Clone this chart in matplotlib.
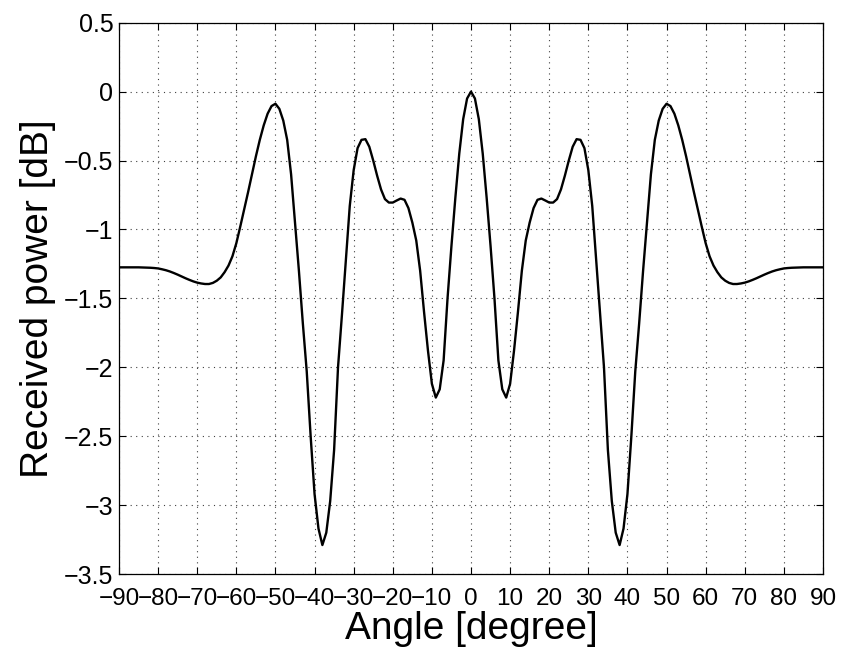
import numpy as np
import matplotlib
matplotlib.use("Agg")
import matplotlib.pyplot as plt

plt.rcParams['font.family'] = ['Liberation Sans', 'DejaVu Sans']
plt.rcParams['axes.unicode_minus'] = True

angle_left = list(range(-90, 1))
power_left = [
    -1.275, -1.275, -1.275, -1.275, -1.275, -1.275, -1.276, -1.277, -1.278, -1.280,
    -1.283, -1.289, -1.296, -1.305, -1.316, -1.328, -1.341, -1.354, -1.366, -1.377,
    -1.386, -1.392, -1.396, -1.396, -1.388, -1.372, -1.348, -1.310, -1.262, -1.195,
    -1.100, -0.980, -0.855, -0.730, -0.600, -0.470, -0.350, -0.245, -0.160, -0.105,
    -0.088, -0.125, -0.210, -0.350, -0.600, -0.950, -1.300, -1.680, -2.030, -2.500,
    -2.920, -3.170, -3.290, -3.200, -2.970, -2.600, -2.000, -1.620, -1.220, -0.830,
    -0.570, -0.410, -0.350, -0.345, -0.400, -0.500, -0.610, -0.710, -0.780, -0.805,
    -0.805, -0.790, -0.776, -0.785, -0.845, -0.950, -1.080, -1.300, -1.600, -1.880,
    -2.120, -2.220, -2.160, -1.950, -1.500, -1.120, -0.770, -0.450, -0.200, -0.050,
    0.000,
]
angle_right = list(range(1, 91))
power_right = [
    -0.050, -0.200, -0.450, -0.770, -1.120, -1.500, -1.950, -2.160, -2.220, -2.120,
    -1.880, -1.600, -1.300, -1.080, -0.950, -0.845, -0.785, -0.776, -0.790, -0.805,
    -0.805, -0.780, -0.710, -0.610, -0.500, -0.400, -0.345, -0.350, -0.410, -0.570,
    -0.830, -1.220, -1.620, -2.000, -2.600, -2.970, -3.200, -3.290, -3.170, -2.920,
    -2.500, -2.030, -1.680, -1.300, -0.950, -0.600, -0.350, -0.210, -0.125, -0.088,
    -0.105, -0.160, -0.245, -0.350, -0.470, -0.600, -0.730, -0.855, -0.980, -1.100,
    -1.195, -1.262, -1.310, -1.348, -1.372, -1.388, -1.396, -1.396, -1.392, -1.386,
    -1.377, -1.366, -1.354, -1.341, -1.328, -1.316, -1.305, -1.296, -1.289, -1.283,
    -1.280, -1.278, -1.277, -1.276, -1.275, -1.275, -1.275, -1.275, -1.275, -1.275,
]
angles = angle_left + angle_right
power = power_left + power_right

xticks = list(range(-90, 91, 10))
yticks = [-3.5, -3, -2.5, -2, -1.5, -1, -0.5, 0, 0.5]
ytick_labels = ['\u22123.5', '\u22123', '\u22122.5', '\u22122', '\u22121.5', '\u22121', '\u22120.5', '0', '0.5']
xtick_labels = [('\u2212%d' % -t) if t < 0 else '%d' % t for t in xticks]

fig = plt.figure(figsize=(8.42, 6.52), dpi=100)
ax = fig.add_axes([119/842, 1 - 574/652, (823-119)/842, (574-22.7)/652])

ax.plot(angles, power, color='black', linewidth=1.7)

ax.set_xlim(-90, 90)
ax.set_ylim(-3.5, 0.5)
ax.set_xticks(xticks)
ax.set_xticklabels(xtick_labels)
ax.set_yticks(yticks)
ax.set_yticklabels(ytick_labels)

ax.grid(True, color='0.25', linestyle=(0, (1, 4)), linewidth=0.8)
ax.tick_params(direction='in', length=5, width=0.8, top=True, right=True)
ax.tick_params(axis='x', pad=10, labelsize=17.5)
ax.tick_params(axis='y', pad=4, labelsize=18)
for s in ax.spines.values():
    s.set_linewidth(0.9)

ax.set_xlabel('Angle [degree]', fontsize=28, labelpad=1)
ax.set_ylabel('Received power [dB]', fontsize=28, labelpad=6)

fig.savefig('out.png', dpi=100)
